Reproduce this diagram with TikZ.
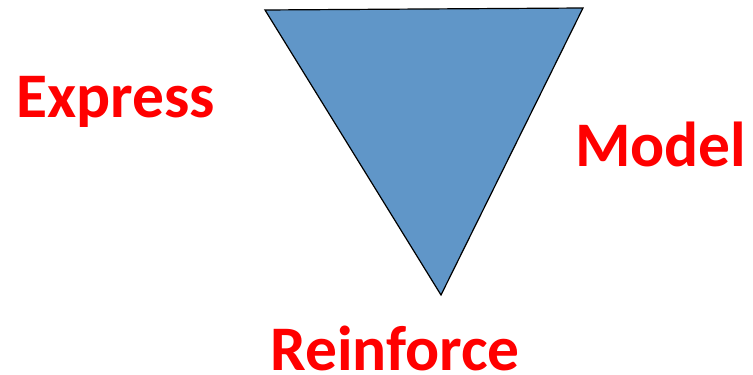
\documentclass[tikz,border=0pt]{standalone}
\usepackage{fontspec}
\setmainfont{Carlito}
\definecolor{tri}{HTML}{6096C8}
\definecolor{lbl}{HTML}{FF0000}
\begin{document}
\begin{tikzpicture}[x=1pt,y=1pt,
  lab/.style={inner sep=0pt,text=lbl,font=\fontsize{63.5}{76}\selectfont\bfseries}]
\useasboundingbox (0,0) rectangle (753,375);
\coordinate (a) at (265,365);
\coordinate (b) at (583,367);
\coordinate (c) at (441,80);
\draw[fill=tri,line width=1.2pt,line join=miter] (a) -- (b) -- (c) -- cycle;
\node[lab,anchor=base west] (express) at (16,257) {Express};
\node[lab,anchor=base west] (model) at (575,208) {Model};
\node[lab,anchor=base west] (reinforce) at (270,4.5) {Reinforce};
\end{tikzpicture}
\end{document}
